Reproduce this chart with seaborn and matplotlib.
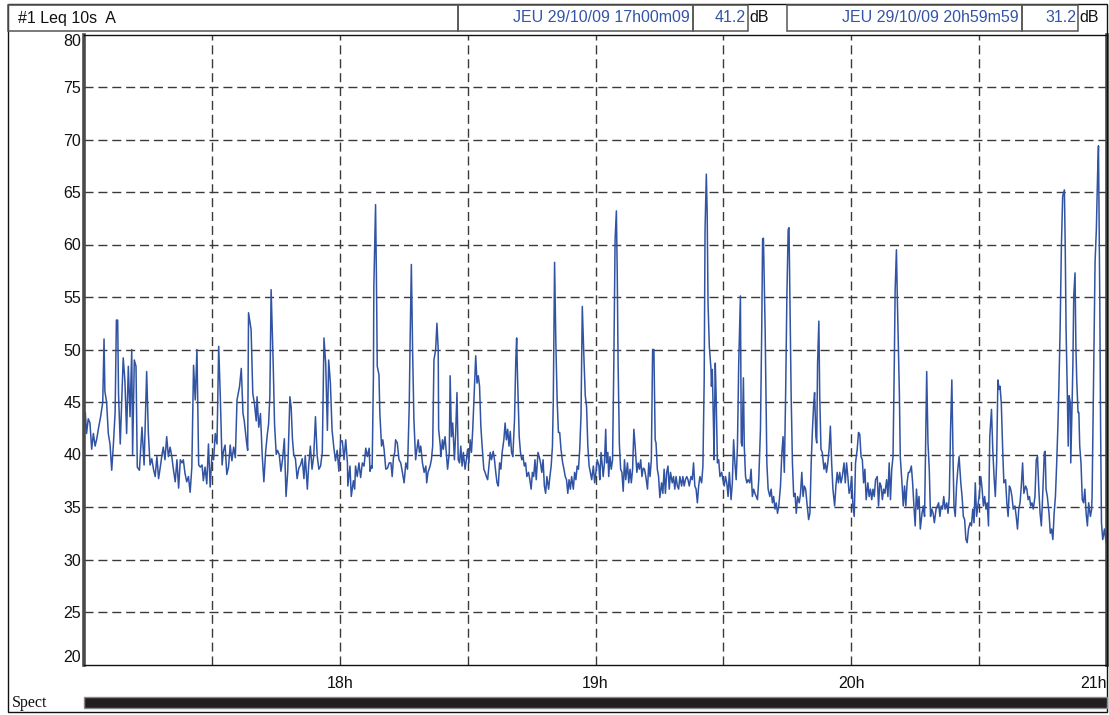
import numpy as np
import pandas as pd
import matplotlib
matplotlib.use("Agg")
import matplotlib.pyplot as plt
import seaborn as sns
from matplotlib.patches import Rectangle
from matplotlib.lines import Line2D

sns.set_theme(style="white")
plt.rcParams["font.family"] = ["Liberation Sans", "DejaVu Sans"]

# Leq 10s (dB(A)) readings, as (minutes after 17h00, level)
block_17h = [
    (0.0, 41.2), (0.3, 44.0), (0.6, 42.0), (1.0, 43.4), (1.4, 43.0), (1.8, 40.5), (2.2, 42.0),
    (2.6, 40.8), (3.0, 41.5), (3.4, 42.5), (3.9, 43.6), (4.4, 45.0), (4.7, 51.0), (4.9, 46.0),
    (5.3, 45.0), (5.7, 42.0), (6.1, 41.0), (6.5, 38.5), (6.9, 41.0), (7.3, 44.0), (7.6, 52.8),
    (7.9, 52.8), (8.1, 45.8), (8.5, 41.0), (8.9, 45.8), (9.2, 49.2), (9.6, 47.0), (10.0, 42.0),
    (10.4, 48.4), (10.8, 43.6), (11.2, 50.0), (11.4, 40.0), (11.8, 49.0), (12.2, 48.4),
    (12.5, 38.8), (13.0, 38.5), (13.6, 42.6), (14.1, 39.0), (14.7, 47.9), (15.1, 42.0),
    (15.5, 39.0), (15.9, 39.6), (16.3, 38.6), (16.7, 37.9), (17.1, 39.8), (17.5, 37.7),
    (17.9, 38.8), (18.3, 40.0), (18.6, 40.7), (19.0, 39.5), (19.4, 41.7), (19.8, 39.8),
    (20.2, 40.7), (20.6, 39.8), (21.0, 38.5), (21.4, 37.4), (21.8, 39.5), (22.2, 36.8),
    (22.6, 39.5), (23.0, 39.2), (23.3, 39.5), (23.7, 38.2), (24.1, 37.4), (24.5, 37.9),
    (24.9, 36.4), (25.3, 38.8), (25.7, 48.5), (26.1, 45.2), (26.5, 50.0), (26.9, 39.0),
    (27.3, 38.8), (27.7, 39.0), (28.0, 37.5), (28.4, 38.8), (28.8, 37.2), (29.2, 41.0),
    (29.6, 36.9), (30.0, 39.8), (30.4, 39.5), (30.8, 42.0), (31.2, 41.0), (31.6, 50.3),
    (32.0, 45.2), (32.4, 39.0), (32.7, 40.3), (33.1, 40.9), (33.5, 38.1), (33.9, 38.8),
    (34.3, 40.9), (34.7, 39.4), (35.1, 40.7), (35.5, 39.7), (35.9, 45.2), (36.5, 46.5),
    (36.9, 48.2), (37.3, 43.9), (37.6, 43.2), (38.1, 41.3), (38.4, 40.4), (38.6, 53.5),
    (39.2, 51.9), (39.6, 45.8), (40.0, 44.8), (40.4, 43.2), (40.6, 45.5), (41.0, 42.6),
    (41.4, 43.9), (41.8, 40.0), (42.2, 37.4), (42.6, 40.2), (43.0, 41.9), (43.3, 42.9),
    (43.6, 45.5), (43.9, 55.7), (44.4, 48.4), (44.7, 42.9), (45.1, 40.0), (45.4, 40.4),
    (45.8, 40.0), (46.2, 38.4), (46.6, 39.6), (47.0, 41.5), (47.4, 36.0), (47.8, 38.4),
    (48.3, 45.5), (48.6, 44.5), (48.9, 41.5), (49.2, 40.0), (49.6, 39.6), (50.0, 37.7),
    (50.4, 38.7), (50.8, 39.0), (51.2, 39.6), (51.6, 37.7), (51.9, 39.9), (52.4, 36.7),
    (52.7, 38.9), (53.1, 40.8), (53.5, 38.6), (53.9, 39.9), (54.3, 43.6), (54.7, 39.9),
    (55.1, 38.6), (55.5, 38.9), (55.9, 40.2), (56.3, 51.1), (56.7, 48.7), (57.1, 42.3),
    (57.4, 49.0), (57.8, 46.8), (58.2, 42.3), (58.6, 40.7), (59.0, 39.4), (59.4, 40.4),
    (59.8, 38.4), (60.2, 41.3),
]

block_18h = [
    (60.6, 41.3), (61.0, 39.5), (61.4, 41.4), (61.8, 39.2), (61.9, 37.0), (62.4, 38.9),
    (62.7, 36.0), (63.2, 37.5), (63.5, 36.7), (63.7, 38.9), (64.1, 37.9), (64.5, 39.2),
    (64.9, 37.8), (65.3, 39.2), (65.7, 38.9), (66.1, 40.6), (66.5, 39.8), (66.9, 40.6),
    (67.1, 38.4), (67.4, 38.9), (67.6, 38.7), (67.9, 47.5), (68.0, 56.0), (68.4, 63.8),
    (68.6, 57.0), (68.8, 48.4), (69.2, 47.6), (69.4, 44.0), (69.8, 40.8), (70.1, 41.4),
    (70.4, 40.5), (70.8, 38.6), (71.2, 38.7), (71.6, 39.2), (72.0, 39.2), (72.3, 37.9),
    (72.6, 39.7), (72.9, 40.2), (73.1, 41.4), (73.5, 41.1), (73.9, 39.5), (74.3, 39.2),
    (74.7, 38.3), (75.1, 37.3), (75.5, 39.2), (75.9, 38.6), (76.3, 44.6), (76.5, 50.6),
    (76.8, 58.1), (77.1, 49.7), (77.4, 43.3), (77.8, 39.5), (78.1, 40.5), (78.4, 41.4),
    (78.7, 40.2), (79.0, 40.8), (79.4, 39.2), (79.8, 38.3), (80.2, 38.9), (80.4, 37.3),
    (80.7, 38.3), (81.2, 38.9), (81.5, 39.5), (81.8, 40.8), (82.1, 49.0), (82.5, 50.0),
    (82.8, 52.5), (83.1, 50.0), (83.2, 42.4), (83.6, 40.8), (83.7, 39.8), (84.1, 41.4),
    (84.3, 40.5), (84.7, 41.7), (85.0, 40.2), (85.3, 38.6), (85.7, 40.2), (85.9, 47.5),
    (86.2, 41.7), (86.5, 43.0), (86.9, 39.5), (87.2, 42.1), (87.5, 45.9), (87.8, 39.5),
    (88.1, 39.2), (88.4, 40.8), (88.7, 38.9), (89.0, 40.2), (89.4, 38.6), (89.7, 39.5),
    (90.0, 40.5), (90.3, 39.2), (90.6, 41.4), (90.9, 40.2), (91.2, 42.4), (91.6, 46.5),
    (91.9, 49.4), (92.2, 46.8), (92.5, 47.5), (92.8, 46.5), (93.1, 42.7), (93.4, 40.8),
    (93.8, 38.6), (94.1, 38.3), (94.4, 37.9), (94.7, 37.6), (95.0, 38.9), (95.3, 40.2),
    (95.6, 39.5), (96.0, 40.3), (96.3, 39.5), (96.6, 38.3), (96.9, 37.3), (97.2, 37.0),
    (97.5, 39.2), (97.8, 38.6), (98.1, 40.2), (98.5, 41.4), (98.8, 43.0), (99.1, 41.4),
    (99.4, 42.4), (99.7, 40.8), (100.0, 42.2), (100.3, 40.2), (100.6, 39.8), (101.0, 43.3),
    (101.3, 49.0), (101.5, 51.1), (101.7, 47.5), (102.1, 41.7), (102.4, 40.2), (102.7, 39.5),
    (103.0, 39.8), (103.3, 38.9), (103.6, 39.2), (103.9, 37.9), (104.3, 38.3), (104.6, 37.6),
    (104.9, 36.7), (105.2, 38.3), (105.5, 37.9), (105.8, 39.5), (106.1, 37.6), (106.5, 40.2),
    (106.8, 39.8), (107.1, 39.2), (107.4, 38.3), (107.7, 39.5), (108.0, 37.0), (108.3, 36.3),
    (108.6, 37.9), (109.0, 36.7), (109.3, 37.9), (109.6, 38.9), (109.9, 40.8), (110.1, 45.2),
    (110.4, 58.3), (110.7, 50.6), (111.0, 45.2), (111.3, 42.1), (111.6, 42.1), (111.9, 40.5),
    (112.3, 39.2), (112.6, 38.6), (112.9, 37.9), (113.2, 37.6), (113.5, 36.3), (113.8, 37.6),
    (114.1, 36.7), (114.4, 37.9), (114.8, 36.7), (115.1, 38.3), (115.4, 37.6), (115.7, 38.9),
    (116.0, 38.6), (116.3, 40.5), (116.6, 43.7), (116.9, 54.1), (117.3, 49.0), (117.6, 45.6),
    (117.9, 44.6), (118.2, 40.8), (118.5, 38.9), (118.8, 38.3), (119.1, 37.6), (119.5, 38.9),
    (119.8, 37.3), (120.1, 38.3),
]

block_19h = [
    (120.4, 39.5), (120.8, 38.9), (121.0, 37.6), (121.3, 40.2), (121.6, 38.9), (121.8, 37.9),
    (122.1, 39.2), (122.4, 42.4), (122.6, 39.2), (122.9, 40.2), (123.1, 37.9), (123.4, 39.8),
    (123.7, 38.6), (124.0, 39.5), (124.3, 48.7), (124.6, 60.5), (124.9, 63.2), (125.1, 57.3),
    (125.3, 48.7), (125.6, 41.0), (125.9, 38.6), (126.2, 38.3), (126.5, 36.5), (126.8, 39.5),
    (127.1, 37.6), (127.5, 39.2), (127.8, 37.3), (128.1, 38.6), (128.4, 37.3), (128.7, 38.6),
    (129.0, 42.4), (129.3, 40.8), (129.7, 38.3), (130.0, 39.2), (130.3, 38.6), (130.6, 39.5),
    (130.9, 37.9), (131.2, 38.7), (131.5, 38.6), (131.8, 37.9), (132.2, 36.7), (132.5, 39.2),
    (132.8, 37.9), (133.1, 39.5), (133.4, 50.0), (133.7, 50.0), (134.0, 41.4), (134.2, 41.1),
    (134.5, 38.6), (134.8, 37.9), (135.1, 35.9), (135.5, 37.3), (135.8, 36.3), (136.1, 38.6),
    (136.4, 36.3), (136.7, 38.3), (137.0, 38.9), (137.3, 36.7), (137.6, 38.3), (138.0, 37.3),
    (138.3, 37.9), (138.6, 36.7), (138.9, 37.9), (139.2, 37.0), (139.5, 36.7), (139.8, 37.9),
    (140.2, 37.0), (140.5, 37.9), (140.8, 37.0), (141.1, 37.6), (141.4, 37.9), (141.7, 37.6),
    (142.0, 37.0), (142.4, 37.9), (142.7, 37.6), (143.0, 39.2), (143.3, 37.0), (143.6, 36.7),
    (143.9, 35.4), (144.2, 37.0), (144.5, 37.9), (144.9, 37.3), (145.2, 38.9), (145.5, 47.1),
    (145.7, 61.4), (146.0, 66.7), (146.2, 63.0), (146.4, 54.4), (146.7, 50.3), (147.1, 48.1),
    (147.2, 46.5), (147.4, 48.1), (147.7, 42.4), (147.8, 39.5), (148.1, 48.7), (148.3, 45.6),
    (148.6, 39.2), (148.9, 39.5), (149.2, 37.9), (149.6, 38.3), (149.9, 37.6), (150.2, 37.0),
    (150.5, 37.9), (150.8, 37.3), (151.1, 36.0), (151.4, 38.3), (151.8, 35.7), (152.1, 37.3),
    (152.4, 41.4), (152.7, 39.2), (153.0, 37.6), (153.3, 40.8), (153.6, 48.7), (154.0, 55.1),
    (154.2, 41.1), (154.4, 40.8), (154.7, 47.3), (154.9, 40.8), (155.2, 37.9), (155.5, 37.3),
    (155.8, 37.6), (156.2, 37.3), (156.5, 38.6), (156.8, 36.0), (157.1, 36.7), (157.4, 36.3),
    (157.7, 36.0), (158.0, 35.7), (158.3, 37.6), (158.7, 42.4), (159.0, 51.9), (159.2, 60.5),
    (159.4, 60.6), (159.8, 51.9), (160.0, 45.6), (160.2, 39.2), (160.5, 36.7), (160.9, 36.0),
    (161.2, 36.7), (161.5, 35.4), (161.8, 36.0), (162.1, 34.8), (162.4, 35.4), (162.7, 34.4),
    (163.0, 35.1), (163.4, 37.0), (163.7, 40.0), (164.0, 41.7), (164.3, 38.3), (164.6, 45.6),
    (164.9, 55.1), (165.2, 61.4), (165.4, 61.6), (165.6, 55.1), (165.9, 45.6), (166.2, 39.2),
    (166.5, 36.0), (166.8, 36.3), (167.1, 34.4), (167.4, 36.0), (167.8, 35.4), (168.1, 36.3),
    (168.4, 38.3), (168.7, 36.0), (169.0, 37.0), (169.3, 36.7), (169.6, 35.4), (170.0, 33.8),
    (170.3, 34.4), (170.6, 39.2), (170.9, 42.4), (171.2, 44.9), (171.4, 45.9), (171.7, 41.7),
    (171.9, 41.1), (172.1, 48.7), (172.4, 52.7), (172.6, 45.6), (172.9, 40.5), (173.2, 40.2),
    (173.6, 38.6), (173.9, 39.2), (174.2, 38.3), (174.5, 39.2), (174.8, 40.5), (175.1, 42.7),
    (175.4, 39.2), (175.7, 36.7), (176.1, 35.1), (176.4, 37.0), (176.7, 38.3), (177.0, 37.3),
    (177.3, 38.3), (177.6, 37.3), (177.9, 37.9), (178.3, 39.2), (178.6, 37.3), (178.9, 39.2),
    (179.2, 37.9), (179.5, 36.3), (179.8, 36.7),
]

block_20h = [
    (180.1, 37.9), (180.4, 35.1), (180.7, 34.1), (181.0, 39.2), (181.4, 40.5), (181.7, 42.1),
    (182.0, 41.9), (182.3, 39.8), (182.6, 39.5), (182.9, 37.3), (183.2, 38.6), (183.5, 35.7),
    (183.9, 37.3), (184.2, 36.0), (184.5, 36.7), (184.8, 35.7), (185.1, 36.7), (185.4, 36.0),
    (185.7, 37.6), (186.1, 37.9), (186.4, 35.1), (186.7, 37.3), (187.0, 37.0), (187.3, 35.7),
    (187.6, 36.7), (187.9, 36.3), (188.3, 37.6), (188.6, 36.0), (188.9, 39.2), (189.2, 35.7),
    (189.5, 38.6), (189.8, 39.8), (190.1, 48.7), (190.3, 55.7), (190.6, 59.5), (190.8, 55.1),
    (191.1, 49.4), (191.3, 45.6), (191.5, 39.8), (191.9, 37.3), (192.2, 35.1), (192.5, 37.0),
    (192.8, 35.1), (193.1, 37.3), (193.4, 38.3), (193.7, 38.3), (194.1, 38.9), (194.4, 37.3),
    (194.7, 35.1), (195.0, 33.2), (195.3, 36.7), (195.6, 34.8), (195.9, 36.0), (196.2, 32.9),
    (196.6, 34.4), (196.9, 35.1), (197.2, 34.1), (197.5, 42.4), (197.7, 47.9), (198.0, 41.1),
    (198.3, 38.6), (198.6, 34.1), (198.9, 34.8), (199.2, 34.4), (199.5, 33.5), (199.9, 34.8),
    (200.2, 35.1), (200.5, 35.4), (200.8, 34.1), (201.1, 35.1), (201.4, 34.8), (201.7, 36.0),
    (202.0, 34.8), (202.4, 35.4), (202.7, 34.4), (203.0, 36.0), (203.3, 42.4), (203.6, 47.1),
    (203.9, 39.2), (204.1, 35.1), (204.4, 34.1), (204.7, 37.0), (205.0, 38.6), (205.3, 39.8),
    (205.7, 37.3), (206.0, 36.0), (206.3, 34.1), (206.6, 33.8), (206.9, 31.9), (207.2, 31.6),
    (207.5, 32.9), (207.9, 33.5), (208.2, 33.2), (208.5, 34.8), (208.8, 33.5), (209.1, 37.3),
    (209.4, 34.1), (209.7, 35.1), (210.0, 36.0), (210.4, 37.9), (210.7, 36.7), (211.0, 35.1),
    (211.3, 36.0), (211.6, 34.8), (211.9, 35.4), (212.2, 33.2), (212.5, 41.7), (212.9, 44.3),
    (213.2, 40.5), (213.5, 37.9), (213.8, 36.0), (214.1, 39.2), (214.4, 47.1), (214.7, 46.2),
    (214.9, 46.5), (215.2, 44.9), (215.5, 40.8), (215.8, 37.3), (216.2, 37.6), (216.5, 35.4),
    (216.8, 34.1), (217.1, 37.0), (217.4, 36.7), (217.7, 36.0), (218.0, 34.8), (218.4, 35.1),
    (218.7, 34.1), (219.0, 32.9), (219.3, 34.8), (219.6, 35.4), (219.9, 37.0), (220.2, 39.2),
    (220.5, 36.3), (220.9, 37.0), (221.2, 36.7), (221.5, 35.7), (221.8, 36.0), (222.1, 35.1),
    (222.4, 35.4), (222.7, 34.8), (223.1, 36.0), (223.4, 39.5), (223.7, 39.8), (224.0, 36.7),
    (224.3, 34.4), (224.6, 33.2), (224.9, 36.0), (225.3, 40.2), (225.5, 40.3), (225.7, 36.7),
    (226.0, 36.0), (226.4, 34.4), (226.7, 32.5), (227.0, 32.9), (227.3, 31.9), (227.6, 34.4),
    (227.9, 36.0), (228.2, 39.2), (228.5, 43.0), (228.7, 46.2), (229.0, 51.9), (229.3, 59.8),
    (229.6, 64.6), (230.0, 65.2), (230.2, 59.8), (230.4, 51.9), (230.7, 45.6), (230.9, 40.8),
    (231.1, 45.6), (231.4, 44.9), (231.5, 39.2), (231.8, 44.6), (232.0, 48.7), (232.2, 55.1),
    (232.5, 57.3), (232.7, 50.3), (232.9, 47.1), (233.2, 44.0), (233.4, 44.0), (233.6, 40.8),
    (233.9, 39.2), (234.2, 35.7), (234.5, 35.4), (234.8, 36.7), (235.1, 34.4), (235.4, 33.2),
    (235.7, 35.4), (236.1, 34.1), (236.4, 34.8), (236.5, 36.0), (236.8, 45.6), (237.2, 58.3),
    (237.5, 61.4), (237.8, 66.8), (238.0, 69.4), (238.3, 55.1), (238.5, 42.4), (238.7, 33.5),
    (239.0, 31.9), (239.4, 32.9), (239.7, 31.9), (240.0, 31.2),
]

y_ticks = [20, 25, 30, 35, 40, 45, 50, 55, 60, 65, 70, 75, 80]
hour_ticks = [18, 19, 20, 21]
hour_labels = ["18h", "19h", "20h", "21h"]
half_hour_ticks = [17.5, 18.5, 19.5, 20.5]

title_text = "#1 Leq 10s  A"
cursor_start = ("JEU 29/10/09 17h00m09", "41.2")
cursor_end = ("JEU 29/10/09 20h59m59", "31.2")

df = pd.DataFrame(block_17h + block_18h + block_19h + block_20h, columns=["minute", "leq"])
df["hour"] = 17 + df["minute"] / 60.0

W, H = 1109, 715
fig = plt.figure(figsize=(W / 100, H / 100), dpi=100)
fig.patch.set_facecolor("white")


def fx(px):
    return px / W


def fy(py):
    return 1 - py / H


# plot area
x0, x1, y0, y1 = 84, 1107, 34.5, 664.5
ax = fig.add_axes([fx(x0), fy(y1), fx(x1) - fx(x0), fy(y0) - fy(y1)])
ax.set_facecolor("white")
sns.lineplot(data=df, x="hour", y="leq", ax=ax, color="#3153a3", linewidth=1.1,
             estimator=None, sort=False, legend=False)
ax.set_xlim(17, 21)
ax.set_ylim(20, 80)
ax.set_xlabel("")
ax.set_ylabel("")

ax.set_yticks(y_ticks)
ax.set_yticklabels([str(v) for v in y_ticks])
ax.set_xticks(hour_ticks)
ax.set_xticklabels(hour_labels)
ax.set_xticks(half_hour_ticks, minor=True)

ax.tick_params(axis="y", which="major", direction="in", length=8, width=1.0,
               color="#444444", pad=2, labelsize=11.5, labelcolor="#111111")
ax.tick_params(axis="x", which="both", direction="inout", length=10, width=1.0,
               color="#444444", pad=3, labelsize=11.5, labelcolor="#111111")
for lab in ax.get_yticklabels():
    if lab.get_text() == "80":
        lab.set_verticalalignment("top")
    elif lab.get_text() == "20":
        lab.set_verticalalignment("bottom")
xlabs = ax.get_xticklabels()
xlabs[-1].set_horizontalalignment("right")

dash = (0, (6.5, 3.5))
ax.grid(False)
for v in y_ticks[1:-1]:
    ax.axhline(v, color="#3a3a3a", linewidth=1.0, linestyle=dash, zorder=0.5)
for h in half_hour_ticks + hour_ticks[:-1]:
    ax.axvline(h, color="#3a3a3a", linewidth=1.0, linestyle=dash, zorder=0.5)

for side in ["top", "bottom"]:
    ax.spines[side].set_color("#111111")
    ax.spines[side].set_linewidth(1.0)
ax.spines["left"].set_color("#4a4a4a")
ax.spines["left"].set_linewidth(2.6)
ax.spines["right"].set_color("#4a4a4a")
ax.spines["right"].set_linewidth(2.6)

# outer frame
fig.add_artist(Rectangle((fx(8), fy(712)), fx(1107) - fx(8), fy(4) - fy(712),
                         transform=fig.transFigure, fill=False, ec="#111111", lw=1.0))

# header boxes
def header_box(xa, xb, edge="#555555"):
    fig.add_artist(Rectangle((fx(xa), fy(31)), fx(xb) - fx(xa), fy(5) - fy(31),
                             transform=fig.transFigure, fill=False, ec=edge, lw=1.1))

header_box(8, 458)
header_box(458, 693)
header_box(693, 748)
header_box(787, 1022)
header_box(1022, 1078)

blue = "#3355a8"
fig.text(fx(18), fy(18), title_text, fontsize=11.5, color="#111111", va="center", ha="left")
fig.text(fx(690), fy(18), cursor_start[0], fontsize=11.5, color=blue, va="center", ha="right")
fig.text(fx(746), fy(18), cursor_start[1], fontsize=11.5, color=blue, va="center", ha="right")
fig.text(fx(749), fy(18), "dB", fontsize=11.5, color="#111111", va="center", ha="left")
fig.text(fx(1019), fy(18), cursor_end[0], fontsize=11.5, color=blue, va="center", ha="right")
fig.text(fx(1076), fy(18), cursor_end[1], fontsize=11.5, color=blue, va="center", ha="right")
fig.text(fx(1079), fy(18), "dB", fontsize=11.5, color="#111111", va="center", ha="left")

# spectrum strip at the bottom
fig.add_artist(Rectangle((fx(84), fy(708)), fx(1107) - fx(84), fy(697) - fy(708),
                         transform=fig.transFigure, fc="#231f20", ec="#8a8a8a", lw=1.0))
fig.text(fx(12), fy(703), "Spect", fontsize=11.5, color="#111111", va="center", ha="left",
         family=["Liberation Serif", "DejaVu Serif"])

fig.savefig("out.png", dpi=100, facecolor="white")
